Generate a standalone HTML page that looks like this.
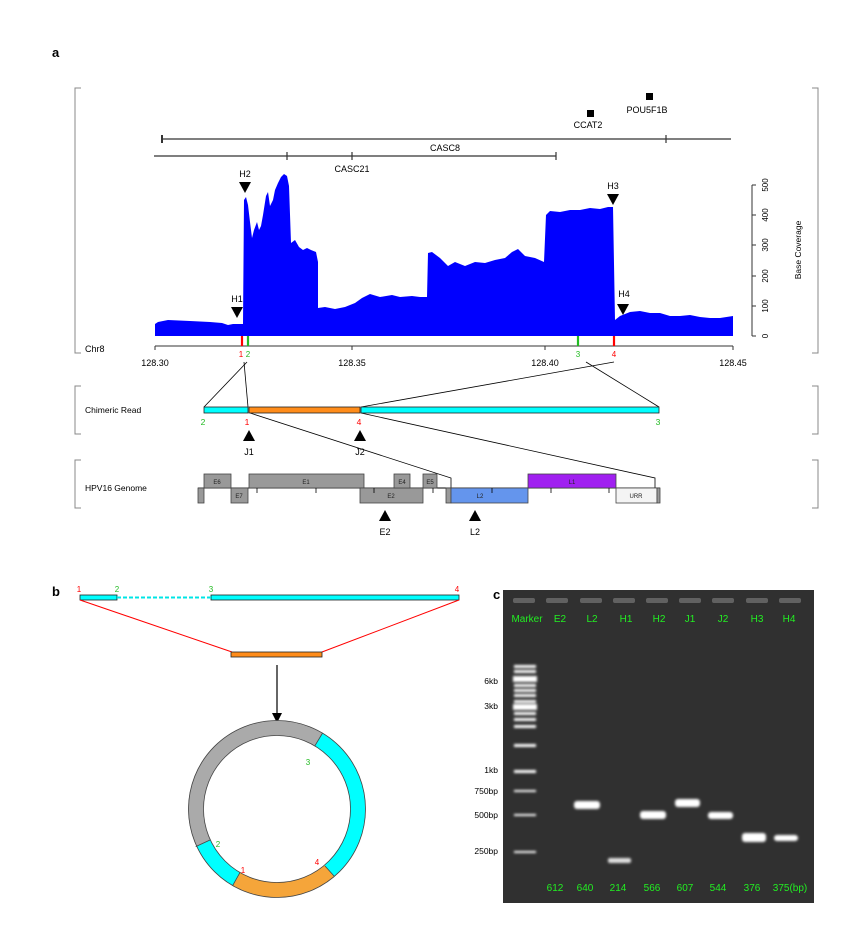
<!DOCTYPE html>
<html><head><meta charset="utf-8"><style>
body{margin:0;background:#fff;}
svg{display:block;font-family:"Liberation Sans",Arial,sans-serif;}
</style></head><body>
<svg width="852" height="929" viewBox="0 0 852 929" xmlns="http://www.w3.org/2000/svg">
<defs>
<filter id="gl" x="-50%" y="-100%" width="200%" height="300%"><feGaussianBlur stdDeviation="1.3"/></filter>
</defs>
<text x="52" y="57" font-size="13" font-weight="bold">a</text>
<text x="52" y="596" font-size="13" font-weight="bold">b</text>

<!-- brackets -->
<g stroke="#888" fill="none" stroke-width="1">
<path d="M81,88 H75 V353 H81"/><path d="M812,88 H818 V353 H812"/>
<path d="M81,386 H75 V434 H81"/><path d="M812,386 H818 V434 H812"/>
<path d="M81,460 H75 V508 H81"/><path d="M812,460 H818 V508 H812"/>
</g>

<!-- genes -->
<g stroke="#333" stroke-width="1.2" fill="none">
<line x1="162" y1="139" x2="731" y2="139"/><line x1="162" y1="135" x2="162" y2="143" stroke-width="2"/><line x1="666" y1="135" x2="666" y2="143"/>
<line x1="154" y1="156" x2="556" y2="156"/><line x1="287" y1="152" x2="287" y2="160"/><line x1="352" y1="152" x2="352" y2="160"/><line x1="556" y1="152" x2="556" y2="160"/>
</g>
<g font-size="9" text-anchor="middle">
<text x="445" y="151">CASC8</text><text x="352" y="172">CASC21</text>
<text x="588" y="128">CCAT2</text><text x="647" y="113">POU5F1B</text>
</g>
<rect x="587" y="110" width="7" height="7"/><rect x="646" y="93" width="7" height="7"/>

<!-- coverage -->
<path fill="#0000ff" d="M155,336 L155,324 L158,322 L168,320 L190,321 L210,322 L222,323 L228,325 L233,324 L240,324 L243,324 L244,200 L246,197 L248,205 L250,222 L252,238 L254,230 L257,222 L259,230 L261,226 L263,215 L266,196 L268,192 L270,206 L273,200 L275,190 L278,183 L281,177 L284,174 L287,176 L289,186 L291,243 L295,240 L299,247 L303,250 L307,248 L311,250 L316,252 L318,262 L318,308 L325,307 L335,309 L345,307 L355,303 L362,298 L370,294 L380,297 L392,295 L400,297 L412,296 L420,297 L427,297 L428,253 L432,252 L440,258 L448,266 L455,262 L465,266 L475,262 L485,263 L495,260 L505,258 L512,252 L518,249 L525,256 L535,258 L544,262 L546,215 L550,211 L560,212 L570,210 L580,210 L590,208 L600,209 L608,207 L613,207 L615,320 L620,316 L630,312 L640,311 L650,313 L660,313 L670,316 L680,316 L690,315 L700,317 L710,318 L720,318 L733,316 L733,336 Z"/>
<!-- right axis -->
<g stroke="#333" fill="none"><line x1="752" y1="185" x2="752" y2="336"/>
<line x1="752" y1="185" x2="756" y2="185"/><line x1="752" y1="215" x2="756" y2="215"/><line x1="752" y1="245" x2="756" y2="245"/><line x1="752" y1="276" x2="756" y2="276"/><line x1="752" y1="306" x2="756" y2="306"/><line x1="752" y1="336" x2="756" y2="336"/></g>
<g font-size="8" text-anchor="middle">
<text transform="translate(768,185) rotate(-90)">500</text><text transform="translate(768,215) rotate(-90)">400</text><text transform="translate(768,245) rotate(-90)">300</text><text transform="translate(768,276) rotate(-90)">200</text><text transform="translate(768,306) rotate(-90)">100</text><text transform="translate(768,336) rotate(-90)">0</text>
<text transform="translate(801,250) rotate(-90)" font-size="8.5">Base Coverage</text>
</g>
<!-- triangles -->
<g fill="#000">
<path d="M239,182 H251 L245,193 Z"/><path d="M607,194 H619 L613,205 Z"/><path d="M231,307 H243 L237,318 Z"/><path d="M617,304 H629 L623,315 Z"/>
</g>
<g font-size="9" text-anchor="middle"><text x="245" y="177">H2</text><text x="613" y="189">H3</text><text x="237" y="302">H1</text><text x="624" y="297">H4</text></g>
<!-- axis -->
<g stroke="#333"><line x1="155" y1="346" x2="733" y2="346"/>
<line x1="155" y1="346" x2="155" y2="350"/><line x1="352" y1="346" x2="352" y2="350"/><line x1="545" y1="346" x2="545" y2="350"/><line x1="733" y1="346" x2="733" y2="350"/></g>
<g stroke-width="2.2"><line x1="242" y1="336" x2="242" y2="346" stroke="#ff0000"/><line x1="248" y1="336" x2="248" y2="346" stroke="#22bb22"/><line x1="578" y1="336" x2="578" y2="346" stroke="#22bb22"/><line x1="614" y1="336" x2="614" y2="346" stroke="#ff0000"/></g>
<g font-size="9" text-anchor="middle"><text x="155" y="366">128.30</text><text x="352" y="366">128.35</text><text x="545" y="366">128.40</text><text x="733" y="366">128.45</text></g>
<text x="85" y="352" font-size="9">Chr8</text>
<g font-size="8" text-anchor="middle"><text x="241" y="357" fill="#ff0000">1</text><text x="248" y="357" fill="#22bb22">2</text><text x="578" y="357" fill="#22bb22">3</text><text x="614" y="357" fill="#ff0000">4</text></g>

<!-- connecting lines -->
<g stroke="#000" stroke-width="0.8" fill="none">
<line x1="247" y1="362" x2="204" y2="407"/><line x1="244" y1="362" x2="248" y2="407"/>
<line x1="614" y1="362" x2="361" y2="407"/><line x1="586" y1="362" x2="659" y2="407"/>
<path d="M250,413 L451,478 V488"/><path d="M361,413 L655,478 V488"/>
</g>
<!-- chimeric read -->
<text x="85" y="413" font-size="8.5">Chimeric Read</text>
<g stroke="#222" stroke-width="0.8"><rect x="204" y="407" width="44" height="6" fill="#00ffff"/><rect x="249" y="407" width="111" height="6" fill="#ff8c1a"/><rect x="361" y="407" width="298" height="6" fill="#00ffff"/></g>
<g font-size="8.5" text-anchor="middle"><text x="203" y="425" fill="#22bb22">2</text><text x="247" y="425" fill="#ff0000">1</text><text x="359" y="425" fill="#ff0000">4</text><text x="658" y="425" fill="#22bb22">3</text></g>
<path d="M243,441 H255 L249,430 Z"/><path d="M354,441 H366 L360,430 Z"/>
<g font-size="9" text-anchor="middle"><text x="249" y="455">J1</text><text x="360" y="455">J2</text></g>

<!-- HPV genome -->
<text x="85" y="491" font-size="8.5">HPV16 Genome</text>
<line x1="198" y1="488" x2="660" y2="488" stroke="#000"/>
<g stroke="#444" stroke-width="0.8" fill="#999">
<rect x="198" y="488" width="6" height="15"/>
<rect x="204" y="474" width="27" height="14"/><rect x="231" y="488" width="17" height="15"/>
<rect x="249" y="474" width="115" height="14"/><rect x="360" y="488" width="63" height="15"/>
<rect x="394" y="474" width="16" height="14"/><rect x="423" y="474" width="14" height="14"/>
<rect x="446" y="488" width="5" height="15"/>
<rect x="451" y="488" width="77" height="15" fill="#6495ed"/>
<rect x="528" y="474" width="88" height="14" fill="#a020f0"/>
<rect x="616" y="488" width="41" height="15" fill="#f4f4f4"/>
<rect x="657" y="488" width="3" height="15"/>
</g>
<g stroke="#000" stroke-width="0.8"><line x1="257" y1="488" x2="257" y2="493"/><line x1="316" y1="488" x2="316" y2="493"/><line x1="374" y1="488" x2="374" y2="493"/><line x1="433" y1="488" x2="433" y2="493"/><line x1="492" y1="488" x2="492" y2="493"/><line x1="551" y1="488" x2="551" y2="493"/><line x1="609" y1="488" x2="609" y2="493"/></g>
<g font-size="6" text-anchor="middle" fill="#222">
<text x="217" y="484">E6</text><text x="239" y="498">E7</text><text x="306" y="484">E1</text><text x="391" y="498">E2</text><text x="402" y="484">E4</text><text x="430" y="484">E5</text><text x="480" y="498">L2</text><text x="572" y="484">L1</text><text x="636" y="498">URR</text>
</g>
<path d="M379,521 H391 L385,510 Z"/><path d="M469,521 H481 L475,510 Z"/>
<g font-size="9" text-anchor="middle"><text x="385" y="535">E2</text><text x="475" y="535">L2</text></g>

<!-- panel b -->
<g stroke="#222" stroke-width="0.8"><rect x="80" y="595" width="37" height="5" fill="#00ffff"/><rect x="211" y="595" width="248" height="5" fill="#00ffff"/></g>
<line x1="117" y1="597.5" x2="211" y2="597.5" stroke="#00e5e5" stroke-width="2" stroke-dasharray="4,2"/>
<g font-size="8" text-anchor="middle"><text x="79" y="592" fill="#ff0000">1</text><text x="117" y="592" fill="#22bb22">2</text><text x="211" y="592" fill="#22bb22">3</text><text x="457" y="592" fill="#ff0000">4</text></g>
<g stroke="#ff0000" stroke-width="1"><line x1="80" y1="600" x2="232" y2="652"/><line x1="459" y1="600" x2="322" y2="652"/></g>
<rect x="231" y="652" width="91" height="5" fill="#ff8c1a" stroke="#222" stroke-width="0.8"/>
<line x1="277" y1="665" x2="277" y2="715" stroke="#000" stroke-width="1.2"/><path d="M272,713 H282 L277,723 Z"/>
<g fill="none" stroke-width="15">
<path d="M236.8,879.1 A81,81 0 0 1 203.4,843.2" stroke="#00ffff"/>
<path d="M203.4,843.2 A81,81 0 0 1 318.7,739.6" stroke="#aaaaaa"/>
<path d="M318.7,739.6 A81,81 0 0 1 329.1,871.0" stroke="#00ffff"/>
<path d="M329.1,871.0 A81,81 0 0 1 236.8,879.1" stroke="#f5a53a"/>
</g>
<g fill="none" stroke="#444" stroke-width="0.8"><circle cx="277" cy="809" r="88.5"/><circle cx="277" cy="809" r="73.5"/>
<line x1="232.6" y1="885.7" x2="240" y2="872.5"/><line x1="195.7" y1="846.6" x2="210" y2="840"/><line x1="322.6" y1="733" x2="314.8" y2="745.9"/><line x1="334" y1="876" x2="325" y2="866"/></g>
<g font-size="8" text-anchor="middle"><text x="218" y="847" fill="#22bb22">2</text><text x="243" y="873" fill="#ff0000">1</text><text x="317" y="865" fill="#ff0000">4</text><text x="308" y="765" fill="#22bb22">3</text></g>

<!-- panel c gel -->
<rect x="503" y="590" width="311" height="313" fill="#303030"/>
<g fill="#777" opacity="0.7">
<rect x="513" y="598" width="22" height="5" rx="2"/><rect x="546" y="598" width="22" height="5" rx="2"/><rect x="580" y="598" width="22" height="5" rx="2"/><rect x="613" y="598" width="22" height="5" rx="2"/><rect x="646" y="598" width="22" height="5" rx="2"/><rect x="679" y="598" width="22" height="5" rx="2"/><rect x="712" y="598" width="22" height="5" rx="2"/><rect x="746" y="598" width="22" height="5" rx="2"/><rect x="779" y="598" width="22" height="5" rx="2"/>
</g>
<g font-size="10" fill="#22ee22" text-anchor="middle">
<text x="527" y="622">Marker</text><text x="560" y="622">E2</text><text x="592" y="622">L2</text><text x="626" y="622">H1</text><text x="659" y="622">H2</text><text x="690" y="622">J1</text><text x="723" y="622">J2</text><text x="757" y="622">H3</text><text x="789" y="622">H4</text>
<text x="555" y="891">612</text><text x="585" y="891">640</text><text x="618" y="891">214</text><text x="652" y="891">566</text><text x="685" y="891">607</text><text x="718" y="891">544</text><text x="752" y="891">376</text><text x="790" y="891">375(bp)</text>
</g>
<g fill="#fff" filter="url(#gl)">
<rect x="514" y="665" width="22" height="3"/><rect x="514" y="670" width="22" height="3"/><rect x="513" y="676" width="24" height="6"/><rect x="514" y="684" width="22" height="3"/><rect x="514" y="689" width="22" height="3"/><rect x="514" y="694" width="22" height="3"/><rect x="514" y="700" width="22" height="3"/><rect x="513" y="704" width="24" height="6"/><rect x="514" y="712" width="22" height="3"/><rect x="514" y="718" width="22" height="3"/><rect x="514" y="725" width="22" height="3"/><rect x="514" y="744" width="22" height="3"/><rect x="514" y="770" width="22" height="3"/><rect x="514" y="790" width="22" height="2"/><rect x="514" y="814" width="22" height="2"/><rect x="514" y="851" width="22" height="2"/>
<rect x="574" y="801" width="26" height="8" rx="3"/>
<rect x="608" y="858" width="23" height="5" rx="2" opacity="0.85"/>
<rect x="640" y="811" width="26" height="8" rx="3"/>
<rect x="675" y="799" width="25" height="8" rx="3"/>
<rect x="708" y="812" width="25" height="7" rx="3"/>
<rect x="742" y="833" width="24" height="9" rx="3"/>
<rect x="774" y="835" width="24" height="6" rx="3"/>
</g>
<g font-size="8.5" text-anchor="end">
<text x="498" y="684">6kb</text><text x="498" y="709">3kb</text><text x="498" y="773">1kb</text><text x="498" y="794">750bp</text><text x="498" y="818">500bp</text><text x="498" y="854">250bp</text>
</g>
<text x="493" y="599" font-size="13" font-weight="bold">c</text>
</svg>
</body></html>
